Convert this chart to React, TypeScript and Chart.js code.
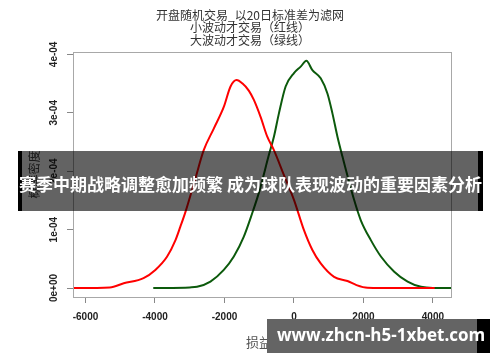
import React, { useEffect, useRef } from "react";
import { Chart, registerables } from "chart.js";

Chart.register(...registerables);

const titleLines = ["开盘随机交易_以20日标准差为滤网", "小波动才交易（红线）", "大波动才交易（绿线）"];
const xAxisTitle = "损益";
const yAxisTitle = "概率密度";
const bannerText = "赛季中期战略调整愈加频繁 成为球队表现波动的重要因素分析";
const watermarkText = "www.zhcn-h5-1xbet.com";

const xTicks = [-6000, -4000, -2000, 0, 2000, 4000];
const yTicks = [0, 1e-4, 2e-4, 3e-4, 4e-4];
const yTickLabels = ["0e+00", "1e-04", "2e-04", "3e-04", "4e-04"];

// Red: small-volatility trades
const redX = [-6350, -5300, -4900, -4330, -3990, -3650, -3410, -3270, -3125, -2850, -2597, -2308, -2020, -1826, -1650, -1480, -1300, -1154, -961, -768, -577, -300, 0, 288, 530, 770, 1154, 1540, 1800, 2117, 3000, 4050];
const redY = [0, 0.01e-4, 0.08e-4, 0.17e-4, 0.31e-4, 0.54e-4, 0.82e-4, 1.05e-4, 1.3e-4, 1.85e-4, 2.36e-4, 2.73e-4, 3.1e-4, 3.45e-4, 3.56e-4, 3.5e-4, 3.38e-4, 3.22e-4, 2.93e-4, 2.59e-4, 2.36e-4, 1.95e-4, 1.51e-4, 0.99e-4, 0.65e-4, 0.42e-4, 0.19e-4, 0.12e-4, 0.05e-4, 0.005e-4, 0, 0];

// Green: large-volatility trades
const greenX = [-4050, -3000, -2790, -2404, -2020, -1731, -1443, -1202, -1000, -721, -577, -433, -240, 0, 193, 358, 530, 770, 963, 1107, 1252, 1396, 1731, 1924, 2213, 2502, 2886, 3271, 3655, 4000, 4520];
const greenY = [0, 0.01e-4, 0.02e-4, 0.11e-4, 0.31e-4, 0.54e-4, 0.88e-4, 1.28e-4, 1.65e-4, 2.28e-4, 2.59e-4, 2.99e-4, 3.45e-4, 3.68e-4, 3.79e-4, 3.89e-4, 3.73e-4, 3.59e-4, 3.33e-4, 2.99e-4, 2.59e-4, 2.25e-4, 1.51e-4, 1.16e-4, 0.82e-4, 0.54e-4, 0.28e-4, 0.11e-4, 0.02e-4, 0, 0];

const W = 500;
const H = 362;

const decorPlugin = {
  id: "decor",
  afterDraw(chart: any) {
    const ctx = chart.ctx as CanvasRenderingContext2D;
    const a = chart.chartArea;
    const yScale = chart.scales.y;
    ctx.save();
    // plot box
    ctx.strokeStyle = "#a8a8a8";
    ctx.lineWidth = 1;
    ctx.strokeRect(Math.round(a.left) + 0.5, Math.round(a.top) + 0.5, Math.round(a.right - a.left), Math.round(a.bottom - a.top));

    // title
    ctx.fillStyle = "#333";
    ctx.font = "12px 'Noto Sans CJK SC', sans-serif";
    ctx.textAlign = "center";
    ctx.textBaseline = "middle";
    const ty = [15, 27.5, 40];
    titleLines.forEach((t, i) => ctx.fillText(t, 250, ty[i]));

    // rotated y tick labels
    ctx.fillStyle = "#222";
    ctx.font = "bold 10px 'Liberation Sans', Arial, sans-serif";
    yTicks.forEach((v, i) => {
      const py = yScale.getPixelForValue(v);
      ctx.save();
      ctx.translate(54, py);
      ctx.rotate(-Math.PI / 2);
      ctx.textAlign = "center";
      ctx.textBaseline = "middle";
      ctx.fillText(yTickLabels[i], 0, 0);
      ctx.restore();
    });

    // axis titles
    ctx.fillStyle = "#555";
    ctx.font = "13px 'Noto Sans CJK SC', sans-serif";
    ctx.textAlign = "center";
    ctx.textBaseline = "middle";
    ctx.fillText(xAxisTitle, 259, 342);
    ctx.save();
    ctx.translate(34, (a.top + a.bottom) / 2);
    ctx.rotate(-Math.PI / 2);
    ctx.font = "12px 'Noto Sans CJK SC', sans-serif";
    ctx.fillStyle = "#444";
    ctx.fillText(yAxisTitle, 0, 0);
    ctx.restore();

    // banner overlay
    ctx.fillStyle = "rgba(0,0,0,0.61)";
    ctx.fillRect(22, 151, 456, 60);
    ctx.fillStyle = "#000";
    ctx.fillRect(18, 151, 4, 60);
    ctx.fillRect(478, 151, 5, 60);
    ctx.fillStyle = "#fff";
    ctx.font = "bold 17px 'Noto Sans CJK SC', sans-serif";
    ctx.textAlign = "center";
    ctx.textBaseline = "middle";
    ctx.fillText(bannerText, 250.5, 185);

    // watermark
    ctx.fillStyle = "#646464";
    ctx.fillRect(267, 319, 210, 34);
    ctx.fillStyle = "#000";
    ctx.fillRect(477, 319, 13, 34);
    ctx.fillStyle = "#fff";
    ctx.font = "bold 17px 'Open Sans', 'Noto Sans', sans-serif";
    ctx.textAlign = "left";
    ctx.textBaseline = "middle";
    ctx.fillText(watermarkText, 277, 336.5);
    ctx.restore();
  },
};

export default function App() {
  const ref = useRef<HTMLCanvasElement | null>(null);
  useEffect(() => {
    if (!ref.current) return;
    const chart = new Chart(ref.current, {
      type: "line",
      data: {
        datasets: [
          {
            data: redX.map((x, i) => ({ x, y: redY[i] })),
            borderColor: "#ff0000",
            borderWidth: 2,
            pointRadius: 0,
            fill: false,
            cubicInterpolationMode: "monotone",
          },
          {
            data: greenX.map((x, i) => ({ x, y: greenY[i] })),
            borderColor: "#0c5a0c",
            borderWidth: 2,
            pointRadius: 0,
            fill: false,
            cubicInterpolationMode: "monotone",
          },
        ],
      },
      options: {
        responsive: false,
        animation: false,
        devicePixelRatio: 1,
        layout: { padding: { left: 0, top: 52, right: 49, bottom: 0 } },
        plugins: { legend: { display: false }, tooltip: { enabled: false }, title: { display: false } },
        scales: {
          x: {
            type: "linear",
            min: -6360,
            max: 4520,
            afterBuildTicks: (s: any) => {
              s.ticks = xTicks.map((v) => ({ value: v }));
            },
            afterFit: (s: any) => {
              s.height = H - 297;
            },
            ticks: {
              autoSkip: false,
              maxRotation: 0,
              minRotation: 0,
              padding: 8,
              color: "#222",
              font: { size: 10, weight: "bold", family: "'Liberation Sans', Arial, sans-serif" },
              callback: (v: any) => String(v),
            },
            grid: { drawOnChartArea: false, drawTicks: true, tickLength: 6, color: "#888" },
            border: { display: false },
          },
          y: {
            type: "linear",
            min: -0.154e-4,
            max: 4.041e-4,
            afterBuildTicks: (s: any) => {
              s.ticks = yTicks.map((v) => ({ value: v }));
            },
            afterFit: (s: any) => {
              s.width = 73;
            },
            ticks: { display: false },
            grid: { drawOnChartArea: false, drawTicks: true, tickLength: 6, color: "#888" },
            border: { display: false },
          },
        },
      },
      plugins: [decorPlugin],
    } as any);
    return () => chart.destroy();
  }, []);
  return (
    <div style={{ position: "fixed", left: 0, top: 0, width: W, height: H, background: "#fff" }}>
      <canvas ref={ref} width={W} height={H} style={{ display: "block", width: W, height: H }} />
    </div>
  );
}
